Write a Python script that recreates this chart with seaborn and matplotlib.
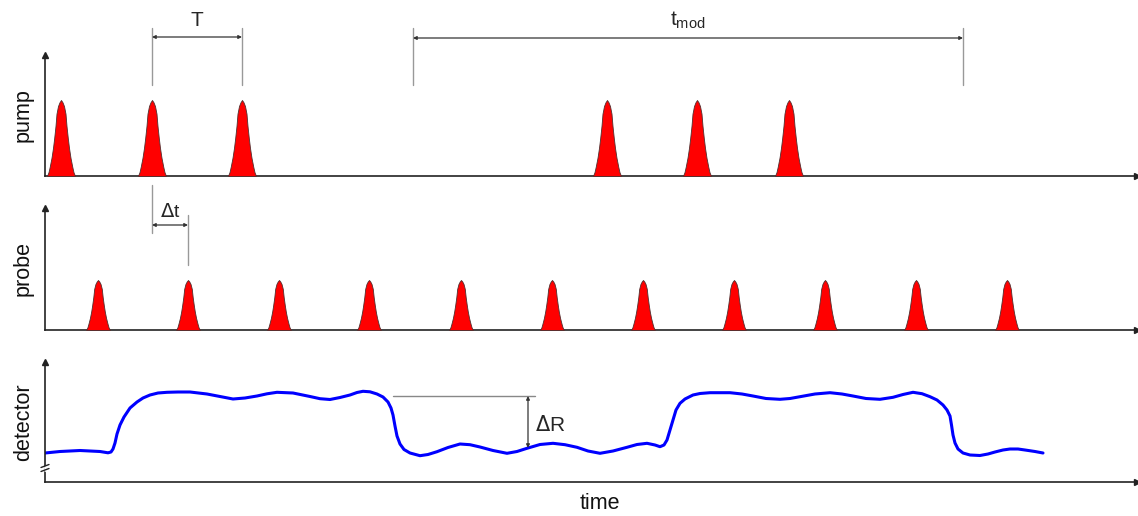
import numpy as np
import pandas as pd
import matplotlib
matplotlib.use('Agg')
import matplotlib.pyplot as plt
import seaborn as sns

sns.set_theme(style="white")
plt.rcParams['font.family'] = ['Liberation Sans', 'DejaVu Sans']

# time axis in arbitrary units (same scale for all three traces)
pump_centers = [61, 152, 242, 607, 697, 789]
probe_centers = [98, 188, 279, 369, 461, 552, 643, 734, 825, 916, 1007]
pump_height = 76
probe_height = 50

# half pulse profile: offset from centre / relative height
pulse_offset = [0, 1.5, 3, 4.5, 5.5, 6.8, 8, 9.5, 11.3, 12.5, 14]
pulse_shape = [1.0, 0.97, 0.92, 0.82, 0.66, 0.50, 0.37, 0.24, 0.12, 0.05, 0.0]

# detector signal
det_t = [45, 60, 80, 100, 108, 111, 113, 115, 117, 120, 124, 130, 137, 143, 150,
         158, 167, 178, 190, 207, 220, 233, 245, 257, 267, 277, 293, 310, 320,
         330, 340, 350, 357, 363, 370, 377,
         383, 388, 391, 393, 395, 397, 400, 404, 410, 420, 428, 437, 448, 460,
         470, 480, 493, 507, 517, 527, 540, 553, 565, 577, 588, 600, 613, 627,
         637, 647, 655, 660, 664, 667, 670, 673, 676, 680,
         685, 693, 700, 710, 730, 742, 753, 766, 780, 790, 800, 815, 830, 842,
         853, 866, 880, 893, 903, 913, 922,
         930, 937, 943, 947, 950, 951.5, 953, 955, 958, 963, 970, 980, 988, 995,
         1003, 1010, 1018, 1025, 1035, 1043]
det_val = [29, 30.5, 31.5, 30.5, 29.2, 30, 33, 39, 48, 57, 65, 74, 80, 84, 87,
           89, 89.7, 90, 90, 88, 85.5, 83, 84, 86, 88.2, 89.7, 89, 85.5, 83.3,
           82.5, 84.5, 87, 89.5, 90.7, 90.2, 88,
           85, 80, 74, 67, 56, 46, 38, 32.5, 29, 26.3, 27.5, 30.3, 34.5, 38,
           37.3, 35, 31.5, 28.7, 30.5, 33.7, 37.5, 38.7, 37.3, 34.7, 31, 28.7, 31, 34.7,
           37.5, 38.7, 37, 35.3, 37, 42, 52, 62, 72, 78.7,
           83, 87, 88.5, 89.3, 89.3, 88, 86, 83.5, 82.7, 83.5, 85.3, 88, 89.3, 88,
           86, 83.5, 82.7, 84.7, 87.5, 89.7, 88.3,
           85.3, 82, 77, 72, 66, 57, 47, 39, 33, 29, 27, 26.5, 28, 30,
           32, 33, 33, 32, 30.5, 29]
dR_levels = [86, 34]
t_mod = [413, 963]

xmin, xmax = 45, 1137
W, H = 1138, 516
fig = plt.figure(figsize=(W / 100, H / 100), dpi=100)

def make_axes(top, bottom):
    ax = fig.add_axes([xmin / W, 1 - bottom / H, (xmax - xmin) / W, (bottom - top) / H])
    ax.set_xlim(xmin, xmax)
    ax.set_ylim(0, bottom - top)
    for s in ['top', 'right']:
        ax.spines[s].set_visible(False)
    for s in ['left', 'bottom']:
        ax.spines[s].set_color('#222222')
        ax.spines[s].set_linewidth(1.2)
    ax.set_xticks([])
    ax.set_yticks([])
    ax.plot(0, 1, marker='^', color='#222222', ms=4, transform=ax.transAxes, clip_on=False)
    ax.plot(1, 0, marker='>', color='#222222', ms=4, transform=ax.transAxes, clip_on=False)
    ax.set_facecolor('none')
    return ax

def draw_pulses(ax, centers, height, scale):
    off = np.array(pulse_offset) * scale
    shape = np.array(pulse_shape)
    for c in centers:
        x = np.concatenate([c - off[::-1], c + off[1:]])
        y = np.concatenate([shape[::-1], shape[1:]]) * height
        ax.fill_between(x, 0, y, color='#ff0000', edgecolor='#503030', linewidth=0.6, zorder=3)

def dim_arrow(ax, x0, x1, y0, y1):
    ax.annotate('', xy=(x1, y1), xytext=(x0, y0), annotation_clip=False,
                arrowprops=dict(arrowstyle='<|-|>', color='#333333', lw=0.9,
                                mutation_scale=5, shrinkA=0, shrinkB=0))

ext = dict(color='#999999', lw=1, clip_on=False)
lab = dict(fontsize=15.5, color='#111111')

# pump
ax1 = make_axes(55, 176)
draw_pulses(ax1, pump_centers, pump_height, 1.0)
ax1.set_ylabel('pump', labelpad=8, **lab)
for xv in [pump_centers[1], pump_centers[2]] + t_mod:
    ax1.plot([xv, xv], [91, 148], **ext)
dim_arrow(ax1, pump_centers[1], pump_centers[2], 139, 139)
ax1.text((pump_centers[1] + pump_centers[2]) / 2, 156, 'T', ha='center', va='center', fontsize=15)
dim_arrow(ax1, t_mod[0], t_mod[1], 138, 138)
ax1.text((t_mod[0] + t_mod[1]) / 2, 156, r'$\mathregular{t_{mod}}$', ha='center', va='center', fontsize=15)

# probe
ax2 = make_axes(208, 330)
draw_pulses(ax2, probe_centers, probe_height, 0.85)
ax2.set_ylabel('probe', labelpad=8, **lab)
ax2.plot([pump_centers[1], pump_centers[1]], [97, 145], **ext)
ax2.plot([probe_centers[1], probe_centers[1]], [65, 115], **ext)
dim_arrow(ax2, pump_centers[1], probe_centers[1], 105, 105)
ax2.text((pump_centers[1] + probe_centers[1]) / 2, 118, r'$\Delta$t', ha='center', va='center', fontsize=14)

# detector
ax3 = make_axes(362, 482)
df = pd.DataFrame({'time': det_t, 'signal': det_val})
sns.lineplot(data=df, x='time', y='signal', ax=ax3, color='#0000ff', lw=2.2,
             solid_joinstyle='round', solid_capstyle='round', sort=False)
ax3.set_ylabel('detector', labelpad=8, visible=True, **lab)
ax3.set_xlabel('time', visible=True, **lab)
ax3.xaxis.set_label_coords((600 - xmin) / (xmax - xmin), -0.09)
ax3.plot([393, 535], [dR_levels[0], dR_levels[0]], color='#888888', lw=1, zorder=2)
dim_arrow(ax3, 528, 528, dR_levels[0], dR_levels[1])
ax3.text(535, 57, r'$\Delta$R', ha='left', va='center', fontsize=15)
# axis break
ax3.plot([xmin, xmin], [12.5, 15.5], color='white', lw=2, clip_on=False, zorder=4)
for h in [12, 16]:
    ax3.plot([xmin - 4, xmin + 4], [h - 1.5, h + 1.5], color='#222222', lw=1, clip_on=False, zorder=5)

fig.savefig('out.png', dpi=100, facecolor='white')
